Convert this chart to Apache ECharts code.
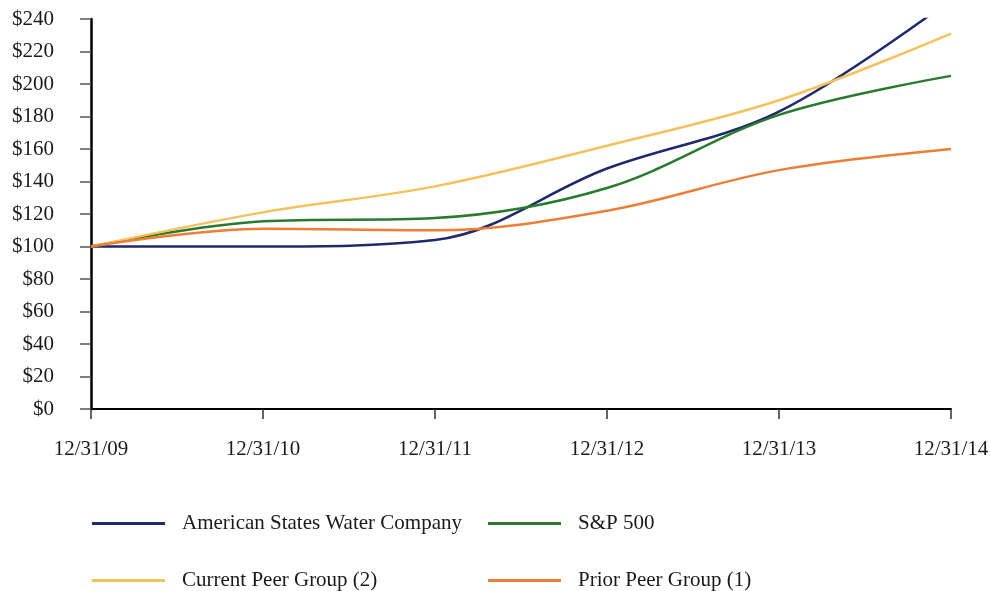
<!DOCTYPE html>
<html>
<head>
<meta charset="utf-8">
<script src="https://cdn.jsdelivr.net/npm/echarts@6/dist/echarts.min.js"></script>
<style>
html, body { margin: 0; padding: 0; background: #fff; }
#graph { width: 990px; height: 591px; }
</style>
</head>
<body>
<div id="graph"></div>
<script>
// values (index = $100 at 12/31/09)
let dates = ['12/31/09', '12/31/10', '12/31/11', '12/31/12', '12/31/13', '12/31/14'];
let awrValues = [100, 100, 104, 148, 183, 252];
let spValues = [100, 115.5, 117.5, 136, 181, 205];
let currentPeerValues = [100, 121, 137, 162, 190, 231];
let priorPeerValues = [100, 111, 110, 122, 147, 160];

let serifFont = '"Liberation Serif", "Times New Roman", serif';

var myChart = echarts.init(document.getElementById('graph'));

function makeLine(name, values, color) {
	return {
		name: name,
		type: 'line',
		data: values,
		smooth: 0.35,
		symbol: 'none',
		clip: true,
		lineStyle: { color: color, width: 2.5 },
		itemStyle: { color: color }
	};
}

// one legend per entry so the two columns line up like the original
function makeLegend(left, top, name) {
	return {
		left: left,
		top: top,
		padding: 0,
		itemWidth: 73,
		itemHeight: 16,
		icon: 'path://M0,6.5 L73,6.5 L73,9.5 L0,9.5 Z',
		data: [name],
		textStyle: {
			fontFamily: serifFont,
			fontSize: 21,
			color: '#1a1a1a',
			padding: [0, 0, 0, 12]
		}
	};
}

let option = {
	animation: false,
	backgroundColor: '#fff',
	grid: { left: 91, right: 39, top: 19, bottom: 182, outerBoundsMode: 'none' },
	legend: [
		makeLegend(92, 513, 'American States Water Company'),
		makeLegend(488, 513, 'S&P 500'),
		makeLegend(92, 570, 'Current Peer Group (2)'),
		makeLegend(488, 570, 'Prior Peer Group (1)')
	],
	xAxis: {
		type: 'category',
		data: dates,
		boundaryGap: false,
		axisLine: { lineStyle: { color: '#000', width: 2 } },
		axisTick: { show: true, length: 10, lineStyle: { color: '#333', width: 1.5 } },
		axisLabel: {
			margin: 30,
			fontFamily: serifFont,
			fontSize: 21,
			color: '#1a1a1a'
		},
		splitLine: { show: false }
	},
	yAxis: {
		type: 'value',
		min: 0,
		max: 240,
		interval: 20,
		axisLine: { show: true, lineStyle: { color: '#000', width: 2.5 } },
		axisTick: { show: true, length: 11, lineStyle: { color: '#555', width: 1.5 } },
		axisLabel: {
			margin: 37,
			fontFamily: serifFont,
			fontSize: 21,
			color: '#1a1a1a',
			formatter: '${value}'
		},
		splitLine: { show: false }
	},
	series: [
		makeLine('American States Water Company', awrValues, '#1f2a6e'),
		makeLine('S&P 500', spValues, '#2a7a2e'),
		makeLine('Current Peer Group (2)', currentPeerValues, '#f4c25c'),
		makeLine('Prior Peer Group (1)', priorPeerValues, '#ee7d36')
	]
};

myChart.setOption(option);
</script>
</body>
</html>
